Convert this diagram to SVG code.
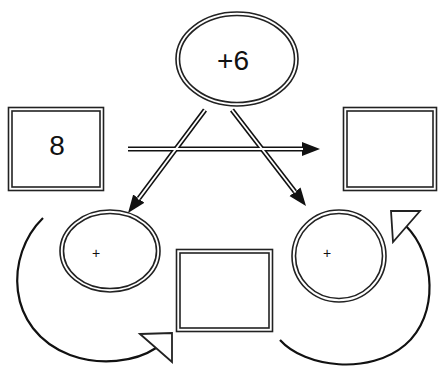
<svg xmlns="http://www.w3.org/2000/svg" width="439" height="369" viewBox="0 0 439 369">
<style>
.dbl{fill:none;stroke:#222;stroke-width:1.6}
.lbl{font-family:"Liberation Sans",Arial,sans-serif;fill:#111;text-anchor:middle;dominant-baseline:central}
.outer{fill:none;stroke:#111;stroke-width:5}
.inner{fill:none;stroke:#fff;stroke-width:1.8}
.arc{fill:none;stroke:#111;stroke-width:2.2}
.hollow{fill:#fff;stroke:#222;stroke-width:1.8;stroke-linejoin:miter}
</style>
<defs>
<marker id="ah" markerUnits="userSpaceOnUse" markerWidth="20" markerHeight="16" refX="0" refY="7" orient="auto" viewBox="0 0 20 14">
<path d="M0,0 L18,7 L0,14 z" fill="#111"/>
</marker>
</defs>
<rect width="439" height="369" fill="#fff"/>
<g id="connectors">
<path class="outer" d="M128,149 L302,149" marker-end="url(#ah)"/>
<path class="outer" d="M205,110 L138.8,198.6" marker-end="url(#ah)"/>
<path class="outer" d="M232,110 L295,191.7" marker-end="url(#ah)"/>
<path class="inner" d="M128,149 L303,149"/>
<path class="inner" d="M205,110 L138.2,199.4"/>
<path class="inner" d="M232,110 L295.6,192.5"/>
<path class="arc" d="M43,218 C5,255 5,330 70,355 C100,366 135,362 156,348"/>
<polygon class="hollow" points="140,334 172,333 172,362"/>
<path class="arc" d="M280,340 C305,368 370,375 405,345 C440,315 435,255 406,226"/>
<polygon class="hollow" points="391,211 420,211 393,242"/>
</g>
<g id="top">
<ellipse class="dbl" cx="237" cy="59" rx="61" ry="47"/>
<ellipse class="dbl" cx="237" cy="59" rx="57.5" ry="43.5"/>
<text class="lbl" x="233" y="60" font-size="28">+6</text>
</g>
<g id="box8">
<rect class="dbl" x="8.5" y="107.5" width="95" height="83"/>
<rect class="dbl" x="12" y="111" width="88" height="76"/>
<text class="lbl" x="57" y="145" font-size="28">8</text>
</g>
<g id="boxRight">
<rect class="dbl" x="343.5" y="107.5" width="93" height="83"/>
<rect class="dbl" x="347" y="111" width="86" height="76"/>
</g>
<g id="leftCircle">
<ellipse class="dbl" cx="110" cy="251" rx="50" ry="41"/>
<ellipse class="dbl" cx="110" cy="251" rx="46.5" ry="37.5"/>
<text class="lbl" x="96" y="253" font-size="14">+</text>
</g>
<g id="boxMid">
<rect class="dbl" x="176.5" y="249.5" width="96" height="82"/>
<rect class="dbl" x="180" y="253" width="89" height="75"/>
</g>
<g id="rightCircle">
<ellipse class="dbl" cx="339" cy="256" rx="47" ry="46"/>
<ellipse class="dbl" cx="339" cy="256" rx="43.5" ry="42.5"/>
<text class="lbl" x="327" y="253" font-size="14">+</text>
</g>
</svg>
